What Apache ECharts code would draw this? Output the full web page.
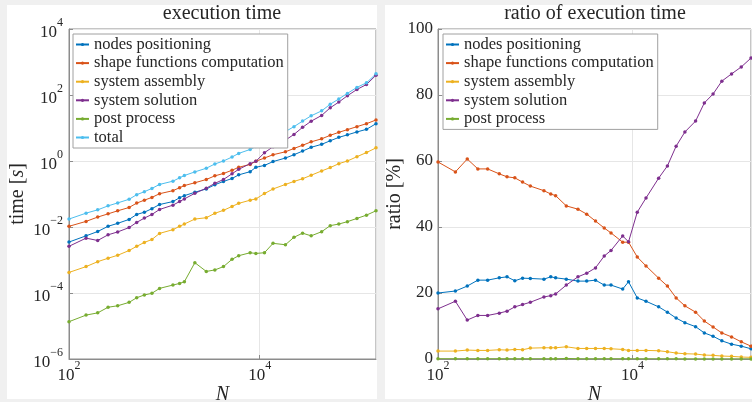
<!DOCTYPE html>
<html>
<head>
<meta charset="utf-8">
<script src="https://cdn.jsdelivr.net/npm/echarts@6/dist/echarts.min.js"></script>
<style>
  html, body { margin: 0; padding: 0; background: #f0f0f0; }
  #chart { width: 752px; height: 402px; }
</style>
</head>
<body>
<div id="chart"></div>
<script>
// number of nodes
const N = [100, 151, 200, 257, 324, 427, 513, 617, 741, 891, 1230, 1445, 1622, 2089, 2754, 3388, 4169,
  5129, 6026, 7943, 9120, 11220, 13804, 18621, 22909, 28184, 34674, 44668, 54954, 67608, 83176,
  104713, 131826, 165959];

// execution time [s]
const nodesTime = [3.5e-3, 5.4e-3, 7.3e-3, 1.05e-2, 1.29e-2, 1.7e-2, 2.4e-2, 2.8e-2, 3.6e-2, 4.8e-2,
  5.9e-2, 7.7e-2, 8.9e-2, 0.113, 0.142, 0.191, 0.24, 0.295, 0.38, 0.475, 0.645, 0.735, 0.96, 1.23,
  1.55, 2.0, 2.6, 3.2, 4.1, 5.2, 6.2, 7.6, 9.1, 13.5];
const shapeTime = [1.05e-2, 1.48e-2, 2.0e-2, 2.5e-2, 3.1e-2, 3.9e-2, 5.3e-2, 6.5e-2, 7.9e-2, 0.102,
  0.126, 0.155, 0.18, 0.219, 0.275, 0.355, 0.418, 0.525, 0.645, 0.79, 0.98, 1.23, 1.55, 1.9, 2.4,
  3.0, 3.8, 4.7, 6.0, 7.4, 8.9, 11.0, 13.5, 17.5];
const assemblyTime = [4.2e-4, 6.3e-4, 8.9e-4, 1.13e-3, 1.39e-3, 1.94e-3, 2.6e-3, 3.4e-3, 4.2e-3,
  6.4e-3, 8.3e-3, 1.05e-2, 1.23e-2, 1.74e-2, 1.91e-2, 2.6e-2, 3.2e-2, 4.2e-2, 5.2e-2, 6.5e-2, 7.1e-2,
  0.103, 0.142, 0.195, 0.24, 0.29, 0.37, 0.5, 0.63, 0.83, 1.0, 1.35, 1.8, 2.5];
const solutionTime = [2.6e-3, 4.6e-3, 3.9e-3, 5.8e-3, 7.1e-3, 9.6e-3, 1.38e-2, 1.86e-2, 2.4e-2,
  3.4e-2, 4.6e-2, 5.9e-2, 7.1e-2, 0.105, 0.15, 0.21, 0.275, 0.41, 0.56, 0.83, 0.98, 1.78, 2.7, 4.3,
  6.4, 10.5, 16.1, 24, 41, 61, 95, 147, 208, 398];
const postTime = [1.35e-5, 2.14e-5, 2.5e-5, 3.7e-5, 4.1e-5, 5.2e-5, 7.2e-5, 8.7e-5, 9.8e-5, 1.38e-4,
  1.74e-4, 1.95e-4, 2.19e-4, 8.3e-4, 4.5e-4, 5.0e-4, 6.3e-4, 1.05e-3, 1.35e-3, 1.66e-3, 1.58e-3,
  1.66e-3, 3.2e-3, 2.9e-3, 4.9e-3, 6.5e-3, 5.4e-3, 7.2e-3, 1.1e-2, 1.23e-2, 1.45e-2, 1.82e-2,
  2.29e-2, 3.1e-2];
const totalTime = [0.0174, 0.0263, 0.0331, 0.0437, 0.0537, 0.0692, 0.0955, 0.117, 0.148, 0.195,
  0.245, 0.309, 0.363, 0.468, 0.603, 0.813, 1.0, 1.32, 1.7, 2.24, 2.75, 3.98, 5.5, 7.8, 11.0, 16.2,
  23.4, 33.1, 52.5, 75.9, 112, 170, 234, 437];

// ratio of execution time [%]
const nodesRatio = [20.0, 20.6, 22.1, 23.9, 23.9, 24.6, 24.9, 23.7, 24.5, 24.4, 24.2, 24.9, 24.6,
  24.2, 23.6, 23.6, 23.9, 22.4, 22.4, 21.2, 23.4, 18.5, 17.5, 15.8, 14.2, 12.4, 11.0, 9.8, 7.9, 6.9,
  5.5, 4.5, 3.9, 3.1];
const shapeRatio = [59.7, 56.7, 60.6, 57.6, 57.6, 56.1, 55.2, 54.9, 53.6, 52.4, 51.0, 50.0, 49.5,
  46.4, 45.4, 43.9, 41.8, 39.7, 38.2, 35.4, 35.4, 30.9, 28.2, 24.5, 22.1, 18.5, 16.1, 14.2, 11.5,
  9.7, 7.9, 6.7, 5.2, 3.9];
const assemblyRatio = [2.4, 2.4, 2.7, 2.6, 2.6, 2.8, 2.7, 2.9, 2.8, 3.3, 3.4, 3.4, 3.4, 3.7, 3.2,
  3.2, 3.2, 3.2, 3.1, 2.9, 2.6, 2.6, 2.6, 2.5, 2.2, 1.8, 1.6, 1.5, 1.2, 1.1, 0.9, 0.8, 0.6, 0.5];
const solutionRatio = [15.2, 17.5, 11.8, 13.2, 13.2, 13.9, 14.5, 15.8, 16.5, 17.2, 18.8, 19.2,
  19.7, 22.4, 24.9, 26.0, 27.6, 31.2, 32.9, 37.3, 35.5, 44.5, 48.8, 54.8, 58.5, 64.5, 68.8, 72.1,
  77.6, 80.3, 84.2, 86.4, 88.5, 91.2];
const postRatio = [0.08, 0.08, 0.08, 0.08, 0.08, 0.08, 0.08, 0.07, 0.07, 0.07, 0.07, 0.06, 0.06,
  0.18, 0.08, 0.06, 0.06, 0.08, 0.08, 0.07, 0.06, 0.04, 0.06, 0.04, 0.05, 0.04, 0.02, 0.02, 0.02,
  0.02, 0.01, 0.01, 0.01, 0.01];

const names = ['nodes positioning', 'shape functions computation', 'system assembly',
  'system solution', 'post process', 'total'];
const colors = ['#0072BD', '#D95319', '#EDB120', '#7E2F8E', '#77AC30', '#4DBEEE'];

const serif = '"Liberation Serif", "DejaVu Serif", serif';
const textColor = '#262626';
const axisColor = '#8c8c8c';
const gridColor = '#e6e6e6';

function pairs(ys) {
  return N.map((n, i) => [n, ys[i]]);
}

// 10^k labels, only every second decade like the original
function powLabel(v) {
  const e = Math.round(Math.log10(v));
  if (Math.abs(Math.log10(v) - e) > 1e-6 || e % 2 !== 0) return '';
  const exp = e < 0 ? '\u2212' + (-e) : '' + e;
  return '{b|10}{s|' + exp + '}';
}
const powRich = {
  b: {fontFamily: serif, fontSize: 17, color: textColor, lineHeight: 24, verticalAlign: 'bottom'},
  s: {fontFamily: serif, fontSize: 12, color: textColor, lineHeight: 12, verticalAlign: 'top'}
};

function lineSeries(name, color, data, idx) {
  return {
    name: name,
    type: 'line',
    xAxisIndex: idx,
    yAxisIndex: idx,
    data: data,
    symbol: 'circle',
    symbolSize: 3.5,
    showAllSymbol: true,
    lineStyle: {color: color, width: 1},
    itemStyle: {color: color},
    emphasis: {disabled: true},
    z: 3
  };
}

const timeData = [nodesTime, shapeTime, assemblyTime, solutionTime, postTime, totalTime];
const ratioData = [nodesRatio, shapeRatio, assemblyRatio, solutionRatio, postRatio];

const series = [];
timeData.forEach((d, i) => series.push(lineSeries(names[i], colors[i], pairs(d), 0)));
ratioData.forEach((d, i) => series.push(lineSeries(names[i], colors[i], pairs(d), 1)));

const legendBase = {
  orient: 'vertical',
  selectedMode: false,
  itemWidth: 13,
  itemHeight: 4,
  itemGap: 1.6,
  padding: [2, 4, 2, 2],
  backgroundColor: '#fff',
  borderColor: '#a0a0a0',
  borderWidth: 1,
  borderRadius: 0,
  textStyle: {fontFamily: serif, fontSize: 16.5, color: textColor, lineHeight: 16}
};

const xAxisBase = {
  type: 'log',
  logBase: 100,
  splitNumber: 2,
  min: 100,
  max: 'dataMax',
  name: 'N',
  nameLocation: 'middle',
  nameGap: 26,
  nameMoveOverlap: false,
  nameTextStyle: {fontFamily: serif, fontSize: 20, fontStyle: 'italic', color: textColor},
  axisLine: {show: true, lineStyle: {color: axisColor}},
  axisTick: {show: true, inside: true, length: 4, lineStyle: {color: axisColor}},
  axisLabel: {formatter: powLabel, rich: powRich, margin: 1, showMaxLabel: false},
  splitLine: {show: true, lineStyle: {color: gridColor}}
};

const option = {
  animation: false,
  backgroundColor: '#f0f0f0',
  graphic: [
    {type: 'rect', shape: {x: 7, y: 5, width: 370, height: 394}, style: {fill: '#fff'}, z: -10, silent: true},
    {type: 'rect', shape: {x: 385, y: 5, width: 367, height: 394}, style: {fill: '#fff'}, z: -10, silent: true},
    {type: 'text', x: 222, y: 14, style: {text: 'execution time', font: '20px ' + serif, fill: textColor,
      textAlign: 'center', textVerticalAlign: 'middle'}},
    {type: 'text', x: 595, y: 14, style: {text: 'ratio of execution time', font: '20px ' + serif, fill: textColor,
      textAlign: 'center', textVerticalAlign: 'middle'}}
  ],
  grid: [
    {left: 69, top: 29, width: 307, height: 330, show: true, backgroundColor: '#fff',
      borderColor: axisColor, borderWidth: 1, outerBoundsMode: 'none', containLabel: false},
    {left: 438, top: 29, width: 313, height: 330, show: true, backgroundColor: '#fff',
      borderColor: axisColor, borderWidth: 1, outerBoundsMode: 'none', containLabel: false}
  ],
  legend: [
    Object.assign({}, legendBase, {data: names, left: 73, top: 34}),
    Object.assign({}, legendBase, {data: names.slice(0, 5), left: 443, top: 34})
  ],
  xAxis: [
    Object.assign({}, xAxisBase, {gridIndex: 0}),
    Object.assign({}, xAxisBase, {gridIndex: 1})
  ],
  yAxis: [
    {
      gridIndex: 0,
      type: 'log',
      logBase: 100,
      min: 1e-6,
      max: 1e4,
      splitNumber: 5,
      name: 'time [{i|s}]',
      nameLocation: 'middle',
      nameGap: 41,
      nameMoveOverlap: false,
      nameTextStyle: {fontFamily: serif, fontSize: 20, color: textColor,
        rich: {i: {fontFamily: serif, fontSize: 20, fontStyle: 'italic', color: textColor}}},
      axisLine: {show: true, lineStyle: {color: axisColor}},
      axisTick: {show: true, inside: true, length: 4, lineStyle: {color: axisColor}},
      axisLabel: {formatter: powLabel, rich: powRich, margin: 6},
      splitLine: {show: true, lineStyle: {color: gridColor}}
    },
    {
      gridIndex: 1,
      type: 'value',
      min: 0,
      max: 100,
      interval: 20,
      name: 'ratio [%]',
      nameLocation: 'middle',
      nameGap: 33,
      nameMoveOverlap: false,
      nameTextStyle: {fontFamily: serif, fontSize: 20, color: textColor},
      axisLine: {show: true, lineStyle: {color: axisColor}},
      axisTick: {show: true, inside: true, length: 4, lineStyle: {color: axisColor}},
      axisLabel: {fontFamily: serif, fontSize: 17, color: textColor, margin: 5},
      splitLine: {show: true, lineStyle: {color: gridColor}}
    }
  ],
  series: series
};

const chart = echarts.init(document.getElementById('chart'), null, {renderer: 'canvas'});
chart.setOption(option);
</script>
</body>
</html>
